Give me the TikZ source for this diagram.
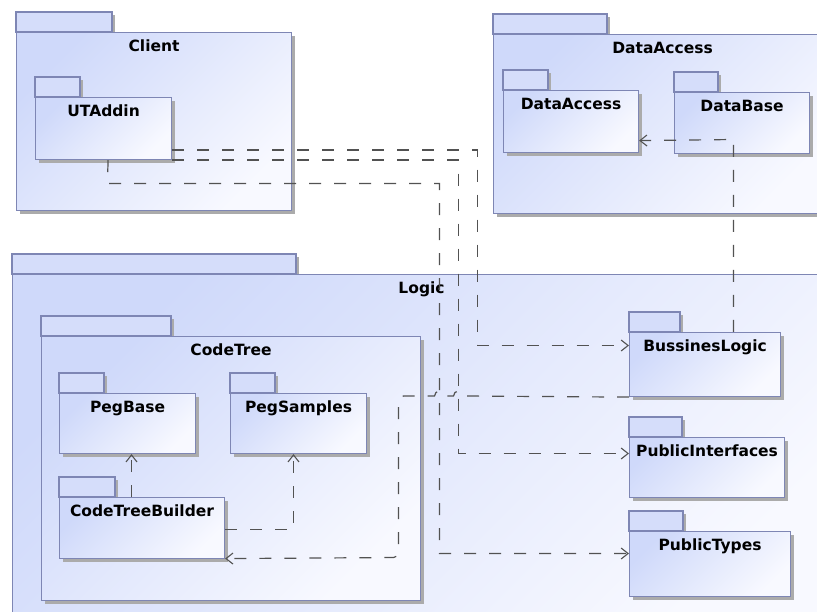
\documentclass[tikz,border=0pt]{standalone}
\usepackage{fontspec}
\setmainfont{DejaVu Sans}
\usetikzlibrary{arrows.meta,shadows}

\definecolor{pkgline}{RGB}{126,134,180}
\definecolor{pkgtabfill}{RGB}{213,221,250}
\definecolor{pkgdark}{RGB}{207,217,250}
\definecolor{pkglight}{RGB}{248,249,255}
\definecolor{depline}{RGB}{82,82,82}

\tikzset{
  pkgshadow/.style={drop shadow={shadow xshift=3pt, shadow yshift=-3pt, fill=black!33, opacity=1}},
  pkgtab/.style={draw=pkgline, line width=1.1pt, fill=pkgtabfill, pkgshadow},
  pkgbody/.style={rectangle, draw=pkgline, line width=1.1pt, top color=pkgdark,
    bottom color=pkglight, shading angle=45, pkgshadow, inner sep=0pt},
  pkgtitle/.style={font=\bfseries\fontsize{15.5}{18}\selectfont, inner sep=0pt, text=black},
  dep/.style={draw=depline, line width=1.2pt, dash pattern=on 12pt off 13pt,
    -{Straight Barb[length=7pt,width=11pt,line width=1.1pt]}},
}

% #1 name, #2 left, #3 top of body, #4 width, #5 height, #6 tab width, #7 title
\newcommand\umlpackage[7]{%
  \path[pkgtab] (#2,#3) rectangle ++(#6,-20);
  \node[pkgbody, anchor=north west, minimum width=#4pt, minimum height=#5pt] (#1) at (#2,#3) {};
  \node[pkgtitle, anchor=base] (#1-title) at ([yshift=-19.5pt]#1.north) {#7};
}

\begin{document}
\begin{tikzpicture}[x=1pt,y=-1pt]
\useasboundingbox (0,0) rectangle (817,612);
\fill[white] (0,0) rectangle (817,612);

% outer packages
\umlpackage{client}{16}{32}{275}{178}{96}{Client}
\umlpackage{dataacc}{493}{34}{338}{179}{114}{DataAccess}
\umlpackage{logic}{12}{274}{818}{360}{284}{Logic}

% contents of Client and DataAccess
\umlpackage{ut}{35}{97}{136}{62}{45}{UTAddin}
\umlpackage{da}{503}{90}{135}{62}{45}{DataAccess}
\umlpackage{db}{674}{92}{135}{61}{44}{DataBase}

% contents of Logic
\umlpackage{ct}{41}{336}{379}{264}{130}{CodeTree}
\umlpackage{pb}{59}{393}{136}{60}{45}{PegBase}
\umlpackage{ps}{230}{393}{136}{60}{45}{PegSamples}
\umlpackage{ctb}{59}{497}{165}{61}{56}{CodeTreeBuilder}
\umlpackage{bl}{629}{332}{151}{64}{51}{BussinesLogic}
\umlpackage{pi}{629}{437}{155}{60}{53}{PublicInterfaces}
\umlpackage{pt}{629}{531}{161}{65}{54}{PublicTypes}

% dependencies
\draw[dep] ([yshift=10pt]ut.south east) -| (477.5,345.5) -- ([yshift=-13.5pt]bl.north west);
\draw[dep] (ut.south east) -| (458.5,453.5) -- ([yshift=-16.5pt]pi.north west);
\draw[dep] ([xshift=4.5pt]ut.south) -- (107.5,183.5) -| (439.5,553.5) -- ([yshift=-22.5pt]pt.north west);
\draw[dep] ([xshift=104.5pt]bl.north west) -- (733.5,139.5) -- ([yshift=12.5pt]da.south east);
\draw[dep] (bl.south west) -- (463.5,396) arc(0:-180:5) -- (444.5,396) arc(0:-180:5)
  -- (420,396) [rounded corners=5pt] -- (398.5,396) -- (398.5,557.5) -- ([yshift=0.5pt]ctb.south east);
\draw[dep] ([xshift=72.5pt]ctb.north west) -- ([xshift=72.5pt]pb.south west);
\draw[dep] ([yshift=-32.5pt]ctb.north east) -| ([xshift=63.5pt]ps.south west);
\end{tikzpicture}
\end{document}
